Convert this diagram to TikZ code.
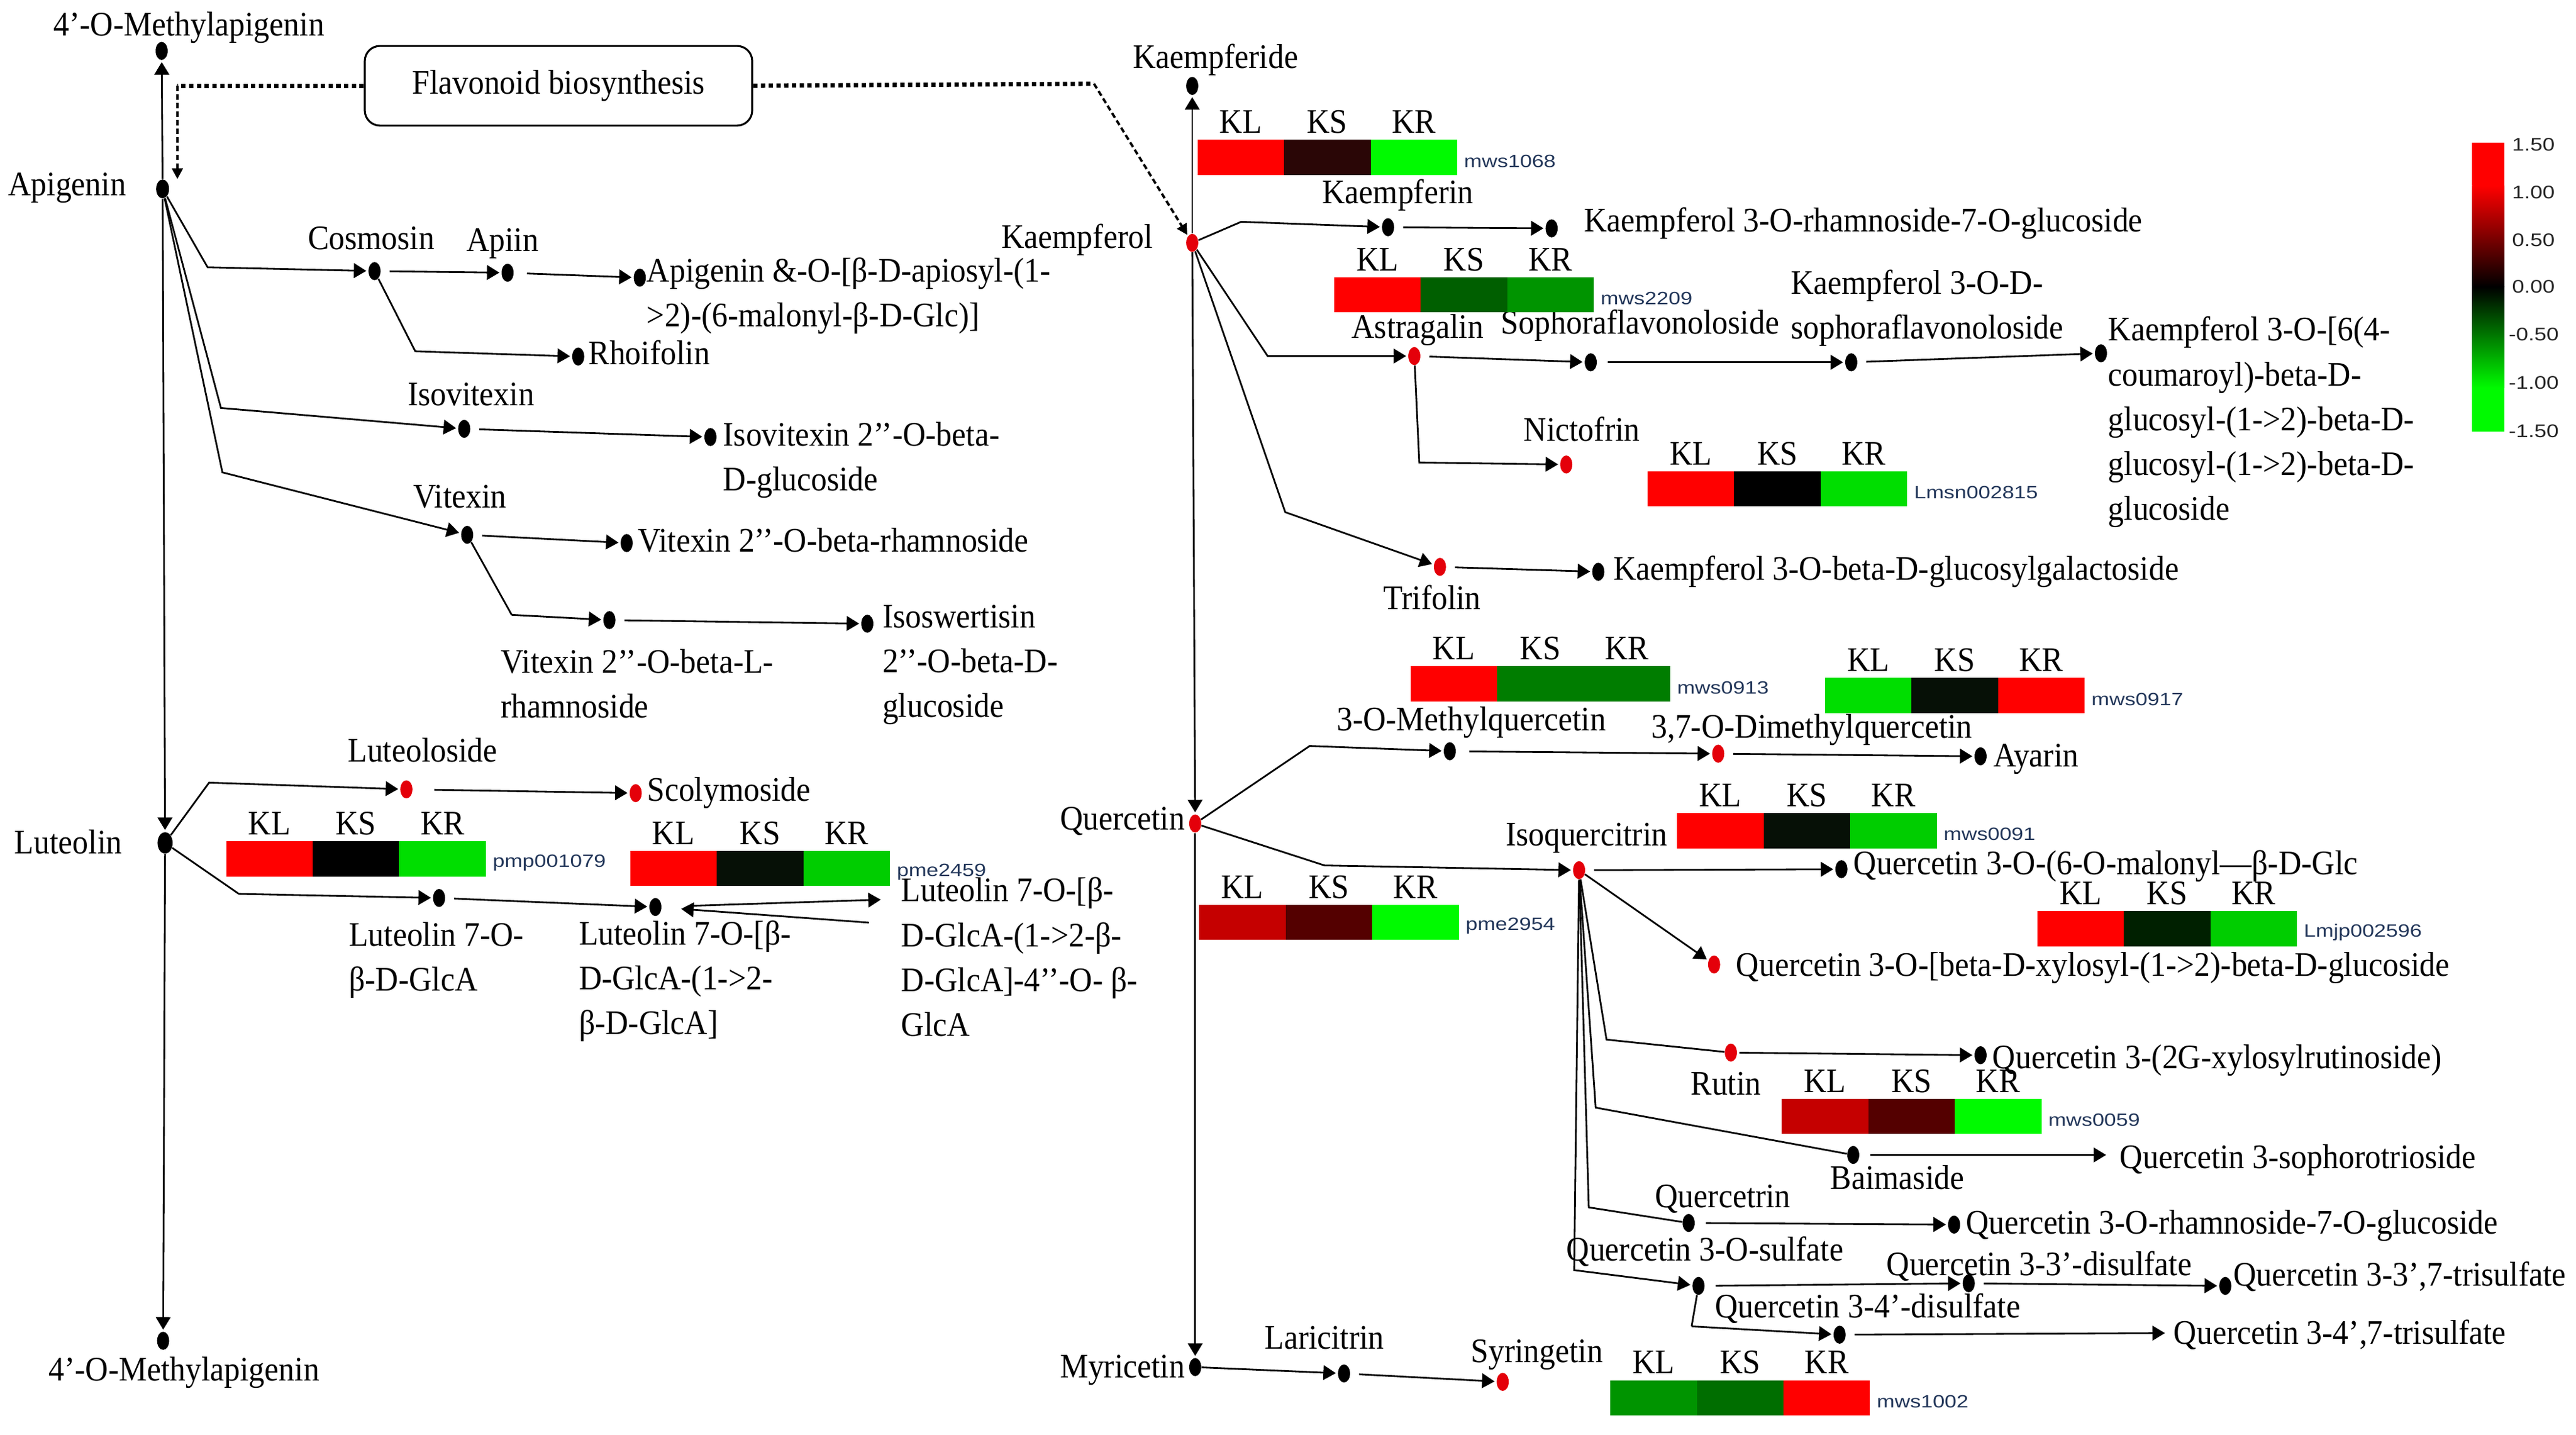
\documentclass[tikz,border=0pt]{standalone}
\usepackage{fontspec}
\setmainfont{Liberation Serif}[FakeStretch=0.92]
\newfontfamily\idfont{Liberation Sans}[FakeStretch=1.2]
\usepackage{tikz}
\usetikzlibrary{arrows.meta, shapes.geometric, calc}

\definecolor{dotred}{RGB}{228,0,10}
\definecolor{idblue}{RGB}{35,55,90}
\definecolor{hred}{RGB}{255,0,0}
\definecolor{hdred}{RGB}{197,0,0}
\definecolor{hbrown}{RGB}{84,0,0}
\definecolor{hdbrown}{RGB}{42,6,6}
\definecolor{hblack}{RGB}{0,0,0}
\definecolor{hnearblack}{RGB}{6,16,6}
\definecolor{hvdgreen}{RGB}{0,32,0}
\definecolor{hdgreen}{RGB}{0,95,0}
\definecolor{hforest}{RGB}{0,110,0}
\definecolor{hfgreen}{RGB}{0,125,0}
\definecolor{hmgreen}{RGB}{0,148,0}
\definecolor{hgreen}{RGB}{0,205,0}
\definecolor{hbgreen}{RGB}{0,222,0}
\definecolor{hlime}{RGB}{0,250,0}

\tikzset{
  lab/.style={font=\fontsize{16}{20.8}\selectfont, inner sep=0pt, text height=11pt, text depth=3.5pt},
  mlab/.style={font=\fontsize{16}{20.8}\selectfont, inner sep=0pt, align=left, anchor=north west},
  hlab/.style={font=\fontsize{16}{20.8}\selectfont, inner sep=0pt, anchor=base},
  idlab/.style={font=\idfont\fontsize{8.3}{10}\selectfont, text=idblue, inner sep=0pt, anchor=west},
  barlab/.style={font=\idfont\fontsize{8.5}{10}\selectfont, text=black!85, inner sep=0pt, anchor=west},
  met/.style={ellipse, fill=black, inner sep=0pt, minimum width=5.6pt, minimum height=8.4pt},
  hit/.style={met, fill=dotred},
  rxn/.style={line width=0.8pt, -{Triangle[length=5.8pt,width=6.8pt]}, shorten <=4pt, shorten >=0.8pt},
  fork/.style={rxn, shorten <=0pt},
  link/.style={line width=0.8pt},
  bigdot/.style={line width=2pt, dash pattern=on 2pt off 1.6pt},
  smalldot/.style={line width=1.1pt, dash pattern=on 2.5pt off 1.5pt, -{Triangle[length=5pt,width=5pt]}},
}

% heat map bar: name, x, y (top left), three colours, id
\newcommand{\heatbar}[7]{%
  \fill[#4] (#2,#3) rectangle ++(52.7,21.5);
  \fill[#5] (#2+52.7,#3) rectangle ++(52.7,21.5);
  \fill[#6] (#2+105.4,#3) rectangle ++(52.7,21.5);
  \node[hlab] (#1kl) at (#2+26.3,#3-4) {KL};
  \node[hlab] (#1ks) at (#2+79,#3-4) {KS};
  \node[hlab] (#1kr) at (#2+131.7,#3-4) {KR};
  \node[idlab] (#1id) at (#2+162,#3+13) {#7};
}

\begin{document}
\begin{tikzpicture}[x=0.02684cm, y=-0.02684cm]
    \useasboundingbox (0,0) rectangle (1568.2,873);

    % metabolites, left part
    \node[met] (mapT) at (98.4,31) {};
    \node[met, minimum width=6pt, minimum height=8.8pt] (api) at (99,115) {};
    \node[met] (cos) at (228,165) {};
    \node[met] (apiin) at (309,166) {};
    \node[met] (apmal) at (389.5,169) {};
    \node[met] (rhoi) at (352,217) {};
    \node[met] (isov) at (282.6,261) {};
    \node[met] (isovg) at (432.5,266) {};
    \node[met] (vit) at (284.4,325.5) {};
    \node[met] (vitr) at (381.5,330.5) {};
    \node[met] (vitl) at (371,377.4) {};
    \node[met] (isosw) at (528,379.6) {};
    \node[met, minimum width=7pt, minimum height=10pt] (lut) at (100.5,513) {};
    \node[hit] (luteo) at (247.4,480.4) {};
    \node[hit] (scoly) at (387,482.7) {};
    \node[met] (lutga) at (267.3,546.5) {};
    \node[met] (lutgg) at (399,552) {};
    \node[met] (mapB) at (99.3,816) {};
    \coordinate (lutR) at (537.2,547.5);
    \coordinate (lutRb) at (529,561.5);

    % metabolites, right part
    \node[met] (kaemf) at (725.8,52.3) {};
    \node[hit] (kaem) at (725.8,147.8) {};
    \node[met] (kaemp) at (845,138.3) {};
    \node[met] (kaemrg) at (944.6,139) {};
    \node[hit] (astra) at (861,216.7) {};
    \node[met] (sopho) at (968.4,220.5) {};
    \node[met] (ksoph) at (1127,220.5) {};
    \node[met] (kcoum) at (1279,215) {};
    \node[hit] (nicto) at (953.5,282.7) {};
    \node[hit] (trifo) at (876.6,345) {};
    \node[met] (kglgal) at (973,348) {};
    \node[hit] (quer) at (727.6,501.2) {};
    \node[met] (mquer) at (882.6,457.2) {};
    \node[hit] (dmquer) at (1046,458.7) {};
    \node[met] (ayar) at (1205.7,460.3) {};
    \node[hit] (isoq) at (961.3,529.6) {};
    \node[met] (qmal) at (1121,529) {};
    \node[hit] (qxyl) at (1043.5,587) {};
    \node[hit] (rutin) at (1053.7,640.6) {};
    \node[met] (qxylr) at (1205.7,642.2) {};
    \node[met] (baim) at (1128.2,702.9) {};
    \node[met] (qrtn) at (1028,744.3) {};
    \node[met] (qrut) at (1189.6,745.3) {};
    \node[met] (qsulf) at (1034,782.6) {};
    \node[met] (qdis3) at (1198.5,781) {};
    \node[met] (qtri3) at (1354.7,782.6) {};
    \node[met] (qdis4) at (1119.9,812.3) {};
    \node[met] (myri) at (727.6,832) {};
    \node[met] (lari) at (818.2,835.9) {};
    \node[hit] (syrin) at (914.8,841) {};
    \coordinate (qsoph) at (1283.2,702.9);
    \coordinate (qtri4) at (1319,811.3);

    % labels, left part
    \node[lab] (tmapT) at (115,17) {4’-O-Methylapigenin};
    \node[lab, anchor=east] (tapi) at (77,114) {Apigenin};
    \node[lab] (tcos) at (226,147) {Cosmosin};
    \node[lab] (tapiin) at (306,148) {Apiin};
    \node[mlab] (tapmal) at (393.5,156.5) {Apigenin \&-O-[β-D-apiosyl-(1-\\>2)-(6-malonyl-β-D-Glc)]};
    \node[lab, anchor=west] (trhoi) at (358,217) {Rhoifolin};
    \node[lab] (tisov) at (286.7,242) {Isovitexin};
    \node[mlab] (tisovg) at (440,256.5) {Isovitexin 2’’-O-beta-\\D-glucoside};
    \node[lab] (tvit) at (280,304) {Vitexin};
    \node[lab, anchor=west] (tvitr) at (388,331) {Vitexin 2’’-O-beta-rhamnoside};
    \node[mlab] (tvitl) at (304.7,395) {Vitexin 2’’-O-beta-L-\\rhamnoside};
    \node[mlab] (tisosw) at (537,368) {Isoswertisin\\2’’-O-beta-D-\\glucoside};
    \node[lab, anchor=east] (tlut) at (74.5,514.6) {Luteolin};
    \node[lab] (tluteo) at (257.3,458.7) {Luteoloside};
    \node[lab, anchor=west] (tscoly) at (393.7,482.7) {Scolymoside};
    \node[mlab] (tlutga) at (212.2,561) {Luteolin 7-O-\\β-D-GlcA};
    \node[mlab] (tlutgg) at (352.2,560) {Luteolin 7-O-[β-\\D-GlcA-(1->2-\\β-D-GlcA]};
    \node[mlab] (tlutR) at (548.5,533.8) {Luteolin 7-O-[β-\\D-GlcA-(1->2-β-\\D-GlcA]-4’’-O- β-\\GlcA};
    \node[lab] (tmapB) at (112,835.3) {4’-O-Methylapigenin};

    % labels, right part
    \node[lab] (tkaemf) at (740,36.8) {Kaempferide};
    \node[lab, anchor=east] (tkaem) at (702,146) {Kaempferol};
    \node[lab] (tkaemp) at (851,118.8) {Kaempferin};
    \node[lab, anchor=west] (tkaemrg) at (964.2,136) {Kaempferol 3-O-rhamnoside-7-O-glucoside};
    \node[lab] (tastra) at (863,200.8) {Astragalin};
    \node[lab] (tsopho) at (998.5,198.4) {Sophoraflavonoloside};
    \node[mlab] (tksoph) at (1090,164) {Kaempferol 3-O-D-\\sophoraflavonoloside};
    \node[mlab] (tkcoum) at (1283.2,192.5) {Kaempferol 3-O-[6(4-\\coumaroyl)-beta-D-\\glucosyl-(1->2)-beta-D-\\glucosyl-(1->2)-beta-D-\\glucoside};
    \node[lab] (tnicto) at (963,263.7) {Nictofrin};
    \node[lab] (ttrifo) at (871.9,365.9) {Trifolin};
    \node[lab, anchor=west] (tkglgal) at (982,348) {Kaempferol 3-O-beta-D-glucosylgalactoside};
    \node[lab, anchor=east] (tquer) at (721.6,500.2) {Quercetin};
    \node[lab] (tmquer) at (895.7,439.6) {3-O-Methylquercetin};
    \node[lab] (tdmquer) at (1103,444.4) {3,7-O-Dimethylquercetin};
    \node[lab, anchor=west] (tayar) at (1213.4,461.9) {Ayarin};
    \node[lab] (tisoq) at (965.8,509.8) {Isoquercitrin};
    \node[lab, anchor=west] (tqmal) at (1128.2,527.4) {Quercetin 3-O-(6-O-malonyl—β-D-Glc};
    \node[lab, anchor=west] (tqxyl) at (1056.7,589) {Quercetin 3-O-[beta-D-xylosyl-(1->2)-beta-D-glucoside};
    \node[lab, anchor=west] (tqxylr) at (1212.8,645.4) {Quercetin 3-(2G-xylosylrutinoside)};
    \node[lab] (trutin) at (1050.7,661.4) {Rutin};
    \node[lab] (tbaim) at (1155,718.8) {Baimaside};
    \node[lab, anchor=west] (tqsoph) at (1290.3,706) {Quercetin 3-sophorotrioside};
    \node[lab] (tqrtn) at (1048.9,730) {Quercetrin};
    \node[lab, anchor=west] (tqrut) at (1196.7,746) {Quercetin 3-O-rhamnoside-7-O-glucoside};
    \node[lab] (tqsulf) at (1038,762.5) {Quercetin 3-O-sulfate};
    \node[lab] (tqdis3) at (1241.4,771.5) {Quercetin 3-3’-disulfate};
    \node[lab, anchor=west] (tqtri3) at (1359.5,777.8) {Quercetin 3-3’,7-trisulfate};
    \node[lab] (tqdis4) at (1137,797) {Quercetin 3-4’-disulfate};
    \node[lab, anchor=west] (tqtri4) at (1323.1,813) {Quercetin 3-4’,7-trisulfate};
    \node[lab, anchor=east] (tmyri) at (721.6,833.7) {Myricetin};
    \node[lab] (tlari) at (806.3,816) {Laricitrin};
    \node[lab] (tsyrin) at (935.6,824.1) {Syringetin};

    % pathway box and dotted links
    \node[draw, line width=0.9pt, rounded corners=7pt, minimum width=6.33cm, minimum height=1.3cm,
          font=\fontsize{16}{20.8}\selectfont] (flav) at (340,52.2) {Flavonoid biosynthesis};
    \coordinate (dotL) at (108,52.2);
    \coordinate (dotLend) at (108,109);
    \coordinate (dotR) at (666,51);
    \draw[bigdot] (flav.west) -- (dotL);
    \draw[smalldot] (dotL) -- (dotLend);
    \draw[bigdot] (flav.east) -- (dotR);
    \draw[smalldot, shorten >=0.5pt] (dotR) -- (kaem);

    % apigenin / luteolin branch
    \draw[fork] (api) -- (mapT);
    \draw[fork] (api) -- (lut);
    \draw[fork] (api) -- (126.4,162.7) -- (cos);
    \draw[rxn] (cos) -- (apiin);
    \draw[rxn, shorten <=6pt] (apiin) -- (apmal);
    \draw[fork] (cos) -- (252.8,213.8) -- (rhoi);
    \draw[fork] (api) -- (134.5,248.3) -- (isov);
    \draw[rxn] (isov) -- (isovg);
    \draw[fork] (api) -- (135.4,287.5) -- (vit);
    \draw[rxn] (vit) -- (vitr);
    \draw[link] (vit) -- (311.5,374.2);
    \draw[rxn, shorten <=0pt] (311.5,374.2) -- (vitl);
    \draw[rxn] (vitl) -- (isosw);
    \draw[fork] (lut) -- (127.3,476.3) -- (luteo);
    \draw[rxn, shorten <=10pt] (luteo) -- (scoly);
    \draw[fork] (lut) -- (145.4,544) -- (lutga);
    \draw[rxn] (lutga) -- (lutgg);
    \draw[rxn, shorten <=14pt] (lutgg) -- (lutR);
    \draw[rxn, shorten <=0pt, shorten >=9pt] (lutRb) -- (lutgg);
    \draw[fork] (lut) -- (mapB);

    % kaempferol branch
    \draw[fork] (kaem) -- (kaemf);
    \draw[fork] (kaem) -- (755.6,135) -- (kaemp);
    \draw[rxn] (kaemp) -- (kaemrg);
    \draw[fork] (kaem) -- (771.7,216.7) -- (astra);
    \draw[rxn] (astra) -- (sopho);
    \draw[rxn, shorten <=5pt] (sopho) -- (ksoph);
    \draw[rxn] (ksoph) -- (kcoum);
    \draw[fork] (astra) -- (864,281.5) -- (nicto);
    \draw[fork] (kaem) -- (782.4,311.7) -- (trifo);
    \draw[rxn] (trifo) -- (kglgal);

    % quercetin branch
    \draw[fork] (kaem) -- (quer);
    \draw[fork] (quer) -- (797.3,454) -- (mquer);
    \draw[rxn, shorten <=6pt] (mquer) -- (dmquer);
    \draw[rxn] (dmquer) -- (ayar);
    \draw[fork] (quer) -- (806.3,526.7) -- (isoq);
    \draw[rxn] (isoq) -- (qmal);
    \draw[fork] (isoq) -- (qxyl);
    \draw[link] (isoq) -- (978,632.7) -- (rutin);
    \draw[rxn, shorten <=1pt] (rutin) -- (qxylr);
    \draw[link] (isoq) -- (971.4,674.1) -- (baim);
    \draw[rxn, shorten <=5pt] (baim) -- (qsoph);
    \draw[link] (isoq) -- (967.2,734.8) -- (qrtn);
    \draw[rxn, shorten <=5pt] (qrtn) -- (qrut);
    \draw[fork] (isoq) -- (958.3,773) -- (qsulf);
    \draw[rxn, shorten <=5pt] (qsulf) -- (qdis3);
    \draw[rxn] (qdis3) -- (qtri3);
    \draw[link] (qsulf) -- (1029.8,807.2);
    \draw[rxn, shorten <=0pt] (1029.8,807.2) -- (qdis4);
    \draw[rxn] (qdis4) -- (qtri4);
    \draw[fork] (quer) -- (myri);
    \draw[fork] (myri) -- (lari);
    \draw[rxn] (lari) -- (syrin);

    % heat maps
    \heatbar{pmp}{137.7}{512}{hred}{hblack}{hbgreen}{pmp001079}
    \heatbar{pme}{383.7}{517.8}{hred}{hnearblack}{hgreen}{pme2459}
    \heatbar{mwsa}{729}{85}{hred}{hdbrown}{hlime}{mws1068}
    \heatbar{mwsb}{812.2}{168.7}{hred}{hdgreen}{hmgreen}{mws2209}
    \heatbar{lmsn}{1003}{286.8}{hred}{hblack}{hbgreen}{Lmsn002815}
    \heatbar{mwsc}{858.7}{405.5}{hred}{hfgreen}{hfgreen}{mws0913}
    \heatbar{mwsd}{1111}{412.5}{hbgreen}{hnearblack}{hred}{mws0917}
    \heatbar{mwse}{1021}{494.8}{hred}{hnearblack}{hgreen}{mws0091}
    \heatbar{pmeb}{730}{550.6}{hdred}{hbrown}{hlime}{pme2954}
    \heatbar{lmjp}{1240.3}{554.5}{hred}{hvdgreen}{hgreen}{Lmjp002596}
    \heatbar{mwsf}{1084.7}{668.7}{hdred}{hbrown}{hlime}{mws0059}
    \heatbar{mwsg}{980.3}{840}{hmgreen}{hforest}{hred}{mws1002}

    % colour scale
    \fill[hred] (1505,86.7) rectangle (1524.6,113);
    \shade[top color=hred, bottom color=hblack] (1505,113) rectangle (1524.6,174.6);
    \shade[top color=hblack, bottom color=hlime] (1505,174.6) rectangle (1524.6,236);
    \fill[hlime] (1505,236) rectangle (1524.6,262.5);
    \node[barlab] (s1) at (1529,88) {1.50};
    \node[barlab] (s2) at (1529,117) {1.00};
    \node[barlab] (s3) at (1529,146) {0.50};
    \node[barlab] (s4) at (1529,174.6) {0.00};
    \node[barlab] (s5) at (1527,203.5) {-0.50};
    \node[barlab] (s6) at (1527,233) {-1.00};
    \node[barlab] (s7) at (1527,262.5) {-1.50};
\end{tikzpicture}
\end{document}
